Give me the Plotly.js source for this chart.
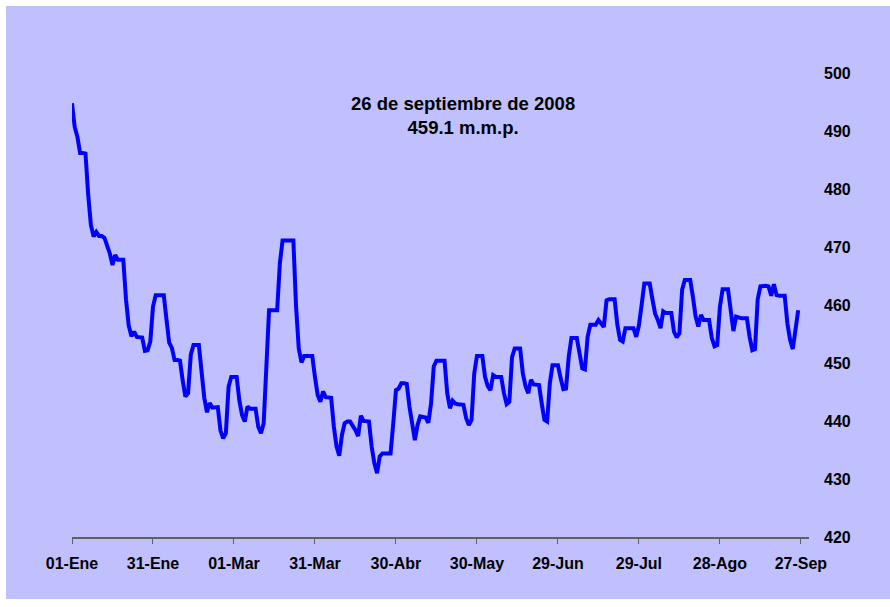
<!DOCTYPE html>
<html>
<head>
<meta charset="utf-8">
<script src="https://cdn.plot.ly/plotly-3.0.1.min.js"></script>
<style>
  html, body { margin: 0; padding: 0; background: #ffffff; }
  #chart { position: absolute; left: 6px; top: 6px; width: 884px; height: 593px; }
</style>
</head>
<body>
<div id="chart"></div>
<script>
// Base monetaria diaria 2008 (m.m.p.), por mes
const startDate = "2008-01-01";
const ene = [494.8,490.7,489.0,486.2,486.2,486.1,479.0,473.8,471.8,472.6,471.9,471.9,471.6,470.2,468.9,466.9,468.6,467.8,467.8,467.8,461.0,456.5,454.6,455.4,454.5,454.5,454.4,452.1,452.2,453.7,459.7];
const feb = [461.7,461.7,461.7,461.7,457.5,453.5,452.6,450.5,450.5,450.4,447.0,444.2,444.8,451.4,453.1,453.1,453.1,448.5,444.0,441.5,443.1,442.3,442.4,442.4,438.4,437.0,437.9,445.9,447.6];
const mar = [447.6,447.6,443.5,441.0,439.9,442.5,442.1,442.1,442.1,439.0,437.9,439.6,451.5,459.1,459.1,459.1,459.1,467.2,471.1,471.1,471.1,471.1,471.1,459.7,452.5,450.1,451.2,451.2,451.2,451.2,447.6];
const abr = [444.5,443.3,445.1,444.1,444.0,444.0,439.0,435.6,434.0,437.6,439.6,439.9,439.9,439.2,438.4,437.4,440.9,440.0,439.9,439.9,435.6,432.7,431.0,433.9,434.4,434.4,434.4,434.4,439.6,445.3];
const may = [445.6,446.5,446.5,446.4,442.5,439.0,436.7,439.3,440.8,440.7,440.6,439.7,443.0,449.4,450.4,450.4,450.4,450.4,444.8,442.2,443.5,443.0,442.9,442.8,442.8,440.5,439.3,440.2,448.2,451.2,451.2];
const jun = [451.2,447.6,446.0,445.3,447.9,447.6,447.6,447.6,444.8,442.9,443.3,451.0,452.5,452.5,452.5,448.2,446.0,444.8,447.1,446.3,446.2,446.2,443.0,440.2,439.9,446.5,449.6,449.6,449.6,447.4];
const jul = [445.5,445.6,451.1,454.3,454.3,454.3,451.7,449.1,448.9,454.5,456.6,456.6,456.6,457.4,456.7,456.2,460.8,461.0,461.0,461.0,456.6,454.0,453.7,456.0,456.0,456.0,456.0,454.5,456.5,460.0,463.7];
const ago = [463.7,463.7,461.0,458.5,457.4,456.0,458.9,458.6,458.6,458.6,455.4,454.4,455.1,462.6,464.3,464.3,464.3,461.4,458.0,456.3,458.3,457.4,457.4,457.4,454.3,452.9,453.1,459.7,462.7,462.7,462.7];
const sep = [459.1,455.5,458.0,457.8,457.7,457.7,457.7,454.5,452.2,452.4,461.0,463.2,463.3,463.3,463.2,461.6,463.6,461.7,461.6,461.6,461.6,456.8,454.0,452.4,455.7,459.1];

const tickDates = ["2008-01-01","2008-01-31","2008-03-01","2008-03-31","2008-04-30","2008-05-30","2008-06-29","2008-07-29","2008-08-28","2008-09-27"];
const tickLabels = ["01-Ene","31-Ene","01-Mar","31-Mar","30-Abr","30-May","29-Jun","29-Jul","28-Ago","27-Sep"];
const yTicks = [420,430,440,450,460,470,480,490,500];
const noteLines = ["26 de septiembre de 2008", "459.1 m.m.p."];

const values = [].concat(ene, feb, mar, abr, may, jun, jul, ago, sep);
const dates = [];
const d0 = new Date(startDate + "T00:00:00Z");
for (let i = 0; i < values.length; i++) {
  const d = new Date(d0.getTime() + i * 86400000);
  dates.push(d.toISOString().slice(0, 10));
}

const font = { family: "Arial, 'Liberation Sans', sans-serif", color: "#000000", size: 16, weight: "bold" };

const trace = {
  x: dates,
  y: values,
  type: "scatter",
  mode: "lines",
  line: { color: "#0000FF", width: 4 },
  hoverinfo: "skip"
};

const layout = {
  width: 884,
  height: 593,
  paper_bgcolor: "#C0C0FF",
  plot_bgcolor: "#C0C0FF",
  margin: { l: 66, r: 81, t: 67, b: 62 },
  showlegend: false,
  font: font,
  xaxis: {
    type: "date",
    range: ["2008-01-01", "2008-09-30"],
    tickmode: "array",
    tickvals: tickDates,
    ticktext: tickLabels,
    ticks: "outside",
    ticklen: 5,
    tickcolor: "#606060",
    tickwidth: 1,
    showline: true,
    linecolor: "#606060",
    linewidth: 1.5,
    showgrid: false,
    zeroline: false,
    tickfont: font,
    ticklabelstandoff: 6
  },
  yaxis: {
    range: [420, 500],
    side: "right",
    tickmode: "array",
    tickvals: yTicks,
    ticks: "",
    showline: false,
    showgrid: false,
    zeroline: false,
    tickfont: font,
    ticklabelstandoff: 14
  },
  annotations: [{
    xref: "paper", yref: "paper",
    x: 0.5305, y: 0.908,
    xanchor: "center", yanchor: "middle",
    text: noteLines.join("<br>"),
    showarrow: false,
    align: "center",
    font: { family: font.family, size: 18.5, color: "#000000", weight: "bold" }
  }]
};

Plotly.newPlot("chart", [trace], layout, { staticPlot: true, displayModeBar: false });
</script>
</body>
</html>
